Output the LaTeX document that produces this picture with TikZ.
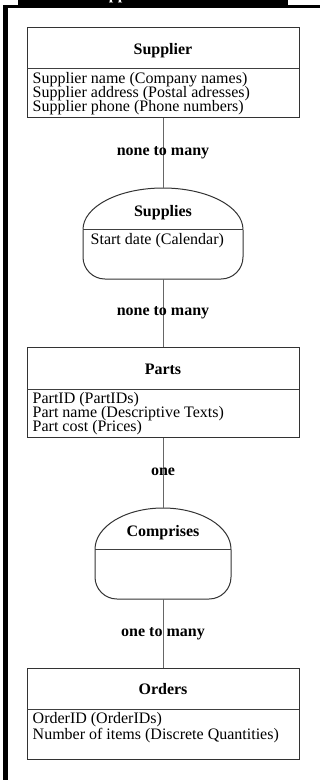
\documentclass[tikz,border=0pt]{standalone}
\usepackage{fontspec}
\setmainfont{Liberation Serif}
\begin{document}
\begin{tikzpicture}[x=1pt,y=1pt,
  every node/.style={font=\fontsize{16pt}{14pt}\selectfont},
  ebox/.style={draw=black!80, line width=1pt, inner sep=0, minimum width=272pt},
  rel/.style={inner sep=0, minimum height=91pt},
  rshape/.style={draw=black!80, line width=1pt},
  divider/.style={draw=black!75, line width=1pt},
  conn/.style={draw=black!60, line width=0.9pt},
  lbl/.style={inner sep=0, anchor=base, font=\fontsize{16pt}{14pt}\selectfont\bfseries},
  attr/.style={inner sep=0, anchor=base west}]
\useasboundingbox (0,0) rectangle (320,-780);
% frame
\fill[black] (18,0) rectangle (287.5,-7.5);
\fill[black] (3,-4.5) rectangle (320,-7.5);
\fill[black] (3,-4.5) rectangle (7.5,-780);
\node[lbl, anchor=base west, text=white] (title) at (91,0.5) {Supplier Parts};

% Supplier
\node[ebox, minimum height=90pt] (supplier) at (163,-72) {};
\draw[divider] (27,-68.5) -- (299,-68.5);
\node[lbl] (supplierT) at (163,-54.5) {Supplier};
\node[attr] (sa1) at (32.5,-83) {Supplier name (Company names)};
\node[attr] (sa2) at (32.5,-97) {Supplier address (Postal adresses)};
\node[attr] (sa3) at (32.5,-111) {Supplier phone (Phone numbers)};

% Supplies
\node[rel] (supplies) at (163,-233.5) {};
\draw[rshape] (83,-229.5) arc[start angle=180, end angle=0, x radius=80, y radius=41.5];
\draw[rshape, rounded corners=22pt] (83,-229.5) -- (83,-279) -- (243,-279) -- (243,-229.5);
\draw[divider] (83,-229.5) -- (243,-229.5);
\node[lbl] (suppliesT) at (163,-216.5) {Supplies};
\node[attr] (pa0) at (90.5,-244.5) {Start date (Calendar)};

% Parts
\node[ebox, minimum height=90pt] (parts) at (163,-392.5) {};
\draw[divider] (27,-389) -- (299,-389);
\node[lbl] (partsT) at (163,-374) {Parts};
\node[attr] (pa1) at (32.5,-403.5) {PartID (PartIDs)};
\node[attr] (pa2) at (32.5,-417.5) {Part name (Descriptive Texts)};
\node[attr] (pa3) at (32.5,-431.5) {Part cost (Prices)};

% Comprises
\node[rel, minimum height=91pt] (comprises) at (163,-553.5) {};
\draw[rshape] (95,-549.3) arc[start angle=180, end angle=0, x radius=68, y radius=41.3];
\draw[rshape, rounded corners=22pt] (95,-549.3) -- (95,-599) -- (231,-599) -- (231,-549.3);
\draw[divider] (95,-549.3) -- (231,-549.3);
\node[lbl] (comprisesT) at (163,-536) {Comprises};

% Orders
\node[ebox, minimum height=91pt] (orders) at (163,-713.5) {};
\draw[divider] (27,-709.3) -- (299,-709.3);
\node[lbl] (ordersT) at (163,-694) {Orders};
\node[attr] (oa1) at (32.5,-723.5) {OrderID (OrderIDs)};
\node[attr] (oa2) at (32.5,-739) {Number of items (Discrete Quantities)};

% connectors
\draw[conn] (supplier.south) -- (supplies.north);
\draw[conn] (supplies.south) -- (parts.north);
\draw[conn] (parts.south) -- (comprises.north);
\draw[conn] (comprises.south) -- (orders.north);

% connector labels
\node[lbl] (c1) at (163,-155.5) {none to many};
\node[lbl] (c2) at (163,-315.5) {none to many};
\node[lbl] (c3) at (163,-475.5) {one};
\node[lbl] (c4) at (163,-636) {one to many};
\end{tikzpicture}
\end{document}
